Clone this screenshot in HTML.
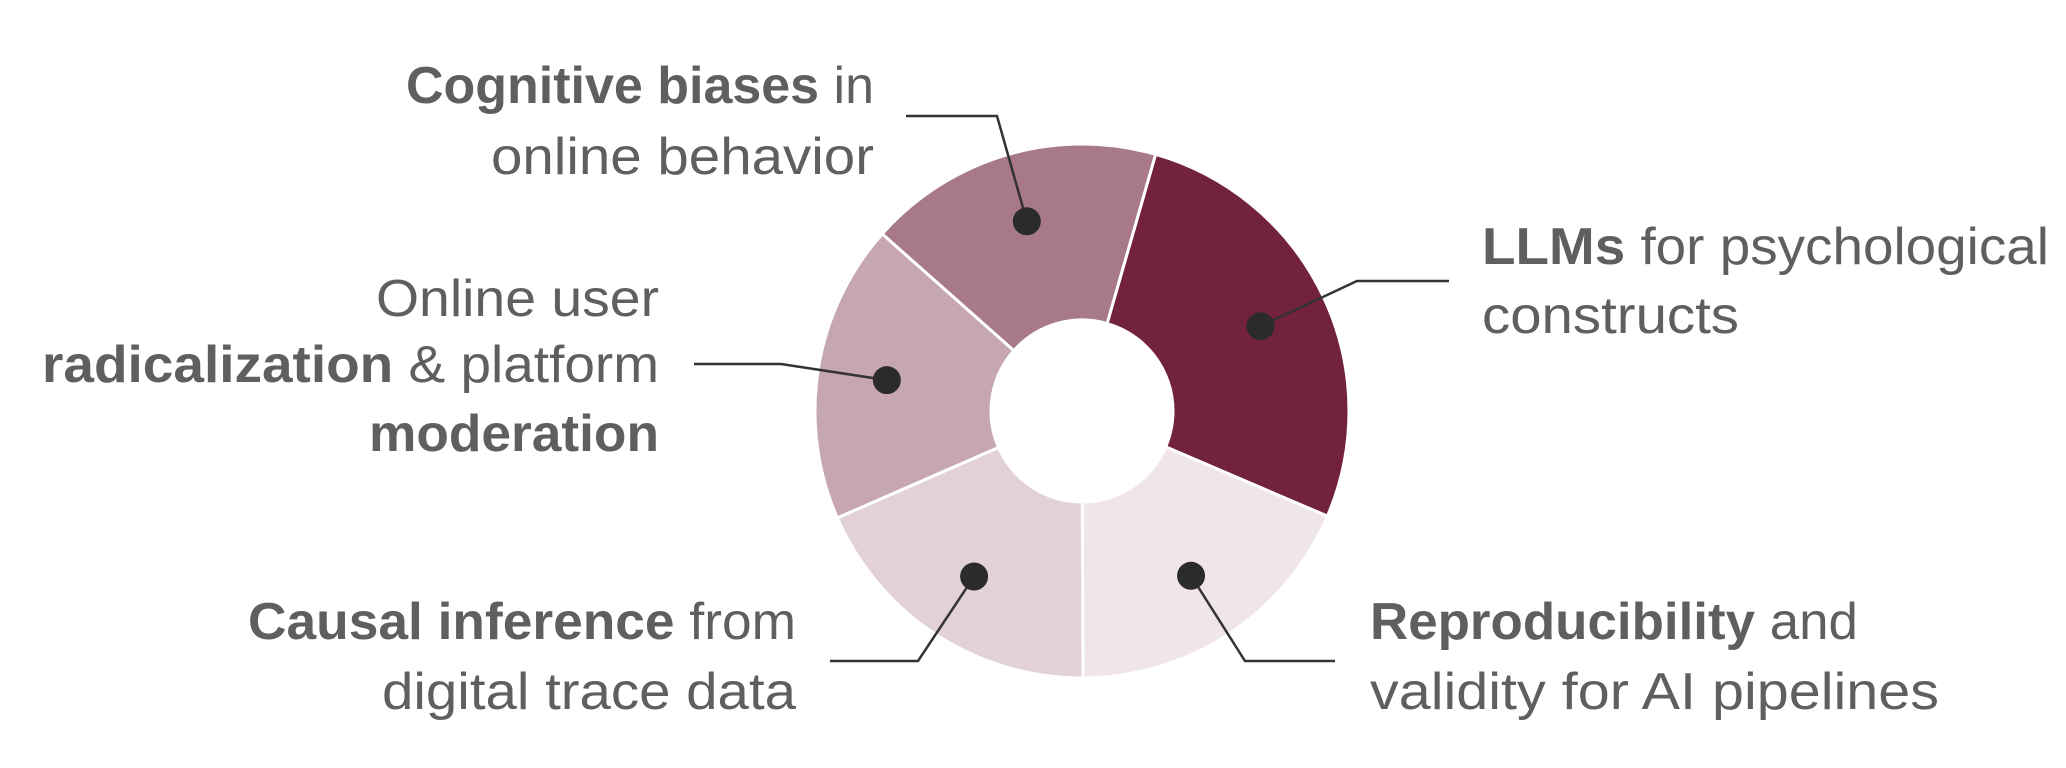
<!DOCTYPE html>
<html><head><meta charset="utf-8">
<style>
html,body{margin:0;padding:0;background:#fff;}
svg{display:block;}
text{font-family:"Liberation Sans",sans-serif;fill:#5f5f5f;font-size:52px;}
.b{font-weight:bold;}
</style></head>
<body>
<svg id="chart" width="2066" height="768" viewBox="0 0 2066 768" xmlns="http://www.w3.org/2000/svg">
<g id="slices"></g>
<g id="leaders"></g>
<g id="labels"></g>
</svg>
<script>
const categories = ["LLMs for psychological constructs","Reproducibility and validity for AI pipelines","Causal inference from digital trace data","Online user radicalization & platform moderation","Cognitive biases in online behavior"];
const values = [27, 18.5, 18.5, 18.1, 17.9];
const colors = ["#72223a","#f0e6ea","#e2d2d8","#c5a6b1","#a87a88"];
const startDeg = 16;

const cx=1082, cy=411, R=267, r=91;
const NS="http://www.w3.org/2000/svg";
function pt(deg,rad){const a=deg*Math.PI/180;return [cx+rad*Math.sin(a), cy-rad*Math.cos(a)];}
const total=values.reduce((a,b)=>a+b,0);
const gS=document.getElementById('slices'), gL=document.getElementById('leaders'), gT=document.getElementById('labels');
let ang=startDeg; const mids=[];
values.forEach((v,i)=>{
  const sw=v/total*360, a0=ang, a1=ang+sw; ang=a1; mids.push((a0+a1)/2);
  const p0=pt(a0,R),p1=pt(a1,R),q1=pt(a1,r),q0=pt(a0,r),lg=sw>180?1:0;
  const p=document.createElementNS(NS,'path');
  p.setAttribute('d',`M${p0[0]},${p0[1]} A${R},${R} 0 ${lg} 1 ${p1[0]},${p1[1]} L${q1[0]},${q1[1]} A${r},${r} 0 ${lg} 0 ${q0[0]},${q0[1]} Z`);
  p.setAttribute('fill',colors[i]); p.setAttribute('stroke','#fff'); p.setAttribute('stroke-width','3');
  
  
  gS.appendChild(p);
});
const elbows=[[1357,281,1449],[1245,661,1335],[918,661,830],[781,364,694],[997,116,906]];
const dotR=0.74*R;
mids.forEach((m,i)=>{
  const d=pt(m,dotR); const e=elbows[i];
  const pl=document.createElementNS(NS,'polyline');
  pl.setAttribute('points',`${d[0]},${d[1]} ${e[0]},${e[1]} ${e[2]},${e[1]}`);
  pl.setAttribute('fill','none'); pl.setAttribute('stroke','#333'); pl.setAttribute('stroke-width','2.5');
  
  
  gL.appendChild(pl);
  const c=document.createElementNS(NS,'circle');
  c.setAttribute('cx',d[0]); c.setAttribute('cy',d[1]); c.setAttribute('r',14); c.setAttribute('fill','#2b2b2b');
  
  
  gL.appendChild(c);
});
const lines=[
 [874,103,'end',468,[["Cognitive biases",1],[" in",0]]],
 [874,174,'end',383,[["online behavior",0]]],
 [659,316,'end',283,[["Online user",0]]],
 [659,382,'end',617,[["radicalization",1],[" & platform",0]]],
 [659,451,'end',290,[["moderation",1]]],
 [1482,264,'start',567,[["LLMs",1],[" for psychological",0]]],
 [1482,333,'start',257,[["constructs",0]]],
 [796,639,'end',548,[["Causal inference",1],[" from",0]]],
 [796,709,'end',414,[["digital trace data",0]]],
 [1370,639,'start',488,[["Reproducibility",1],[" and",0]]],
 [1370,709,'start',569,[["validity for AI pipelines",0]]]
];
lines.forEach((l,i)=>{
  const t=document.createElementNS(NS,'text');
  t.setAttribute('x',l[0]); t.setAttribute('y',l[1]); t.setAttribute('text-anchor',l[2]);
  t.setAttribute('textLength',l[3]); t.setAttribute('lengthAdjust','spacingAndGlyphs');
  
  
  l[4].forEach(s=>{const ts=document.createElementNS(NS,'tspan'); ts.textContent=s[0]; if(s[1]) ts.setAttribute('class','b'); t.appendChild(ts);});
  gT.appendChild(t);
});
</script>
</body></html>
